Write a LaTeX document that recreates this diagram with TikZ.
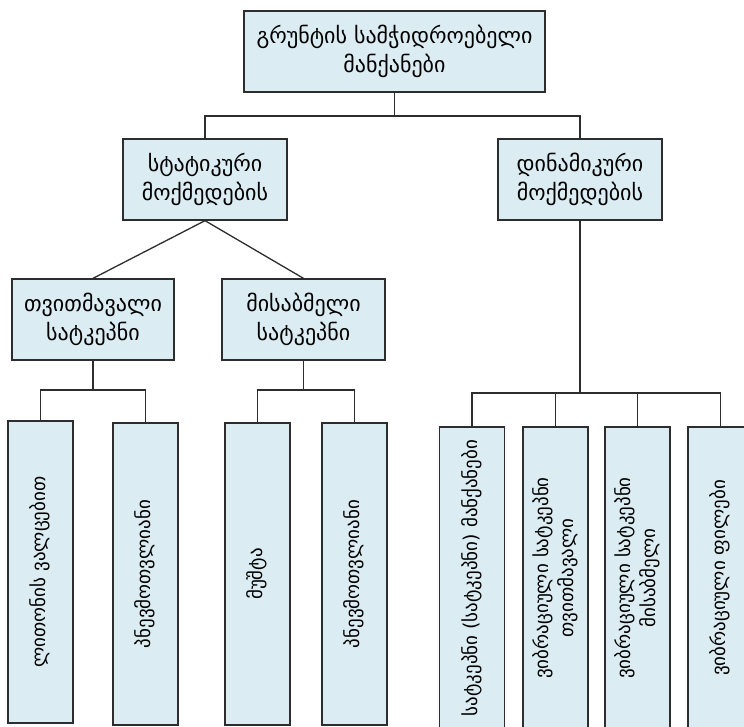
\documentclass[tikz,border=0pt]{standalone}
\usepackage{fontspec}
\setmainfont{DejaVu Sans}
\definecolor{boxfill}{RGB}{219,237,243}
\definecolor{boxline}{RGB}{45,45,45}
\newcommand{\vlabel}[1]{\rotatebox{90}{\begin{tabular}{@{}c@{}}#1\end{tabular}}}

\begin{document}
\begin{tikzpicture}[
    x=1pt, y=-1pt,
    box/.style={draw=boxline, line width=1.3pt, fill=boxfill, minimum height=81pt, align=center, inner sep=2pt, font=\fontsize{22}{29}\selectfont},
    vbox/.style={draw=boxline, line width=1.3pt, fill=boxfill, minimum width=65pt, minimum height=302pt, inner sep=2pt, font=\fontsize{19}{25}\selectfont},
    link/.style={draw=boxline, line width=1.3pt}
]
\useasboundingbox (0,0) rectangle (744,726);

% Nodes
\node[box, minimum width=301pt] (root) at (394.5, 51.5) {გრუნტის სამჭიდროებელი\\მანქანები};
\node[box, minimum width=164pt] (static) at (205, 179.5) {სტატიკური\\მოქმედების};
\node[box, minimum width=164pt] (dynamic) at (580, 179.5) {დინამიკური\\მოქმედების};
\node[box, minimum width=162pt] (selfroll) at (93, 319.5) {თვითმავალი\\სატკეპნი};
\node[box, minimum width=163pt] (towroll) at (303.5, 319.5) {მისაბმელი\\სატკეპნი};

% Bottom row
\node[vbox] (metal) at (40.5, 572) {\vlabel{ლითონის ვალცებით}};
\node[vbox] (pneuA) at (145.5, 574) {\vlabel{პნევმოთვლიანი}};
\node[vbox] (cam) at (257.5, 574) {\vlabel{მუშტა}};
\node[vbox] (pneuB) at (354.5, 574) {\vlabel{პნევმოთვლიანი}};
\node[vbox] (impact) at (472, 578) {\vlabel{სატკეპნი (სატკეპნი) მანქანები}};
\node[vbox] (vibself) at (555.5, 578) {\vlabel{ვიბრაციული სატკეპნი\\თვითმავალი}};
\node[vbox] (vibtow) at (637.5, 578) {\vlabel{ვიბრაციული სატკეპნი\\მისაბმელი}};
\node[vbox] (vibplate) at (720.5, 578) {\vlabel{ვიბრაციული ფილები}};

% Bus levels
\coordinate (bustop) at (0, 116);
\coordinate (busleft) at (0, 390);
\coordinate (busright) at (0, 393);

% Connectors
\draw[link] (root.south) -- (root.south |- bustop);
\draw[link] (static.north) -- (static.north |- bustop) -- (dynamic.north |- bustop) -- (dynamic.north);
\draw[link] (static.south) -- (selfroll.north);
\draw[link] (static.south) -- (towroll.north);

\draw[link] (selfroll.south) -- (selfroll.south |- busleft);
\draw[link] (metal.north) -- (metal.north |- busleft) -- (pneuA.north |- busleft) -- (pneuA.north);
\draw[link] (towroll.south) -- (towroll.south |- busleft);
\draw[link] (cam.north) -- (cam.north |- busleft) -- (pneuB.north |- busleft) -- (pneuB.north);

\draw[link] (dynamic.south) -- (dynamic.south |- busright);
\draw[link] (impact.north) -- (impact.north |- busright) -- (vibplate.north |- busright) -- (vibplate.north);
\draw[link] (vibself.north) -- (vibself.north |- busright);
\draw[link] (vibtow.north) -- (vibtow.north |- busright);

\end{tikzpicture}
\end{document}
